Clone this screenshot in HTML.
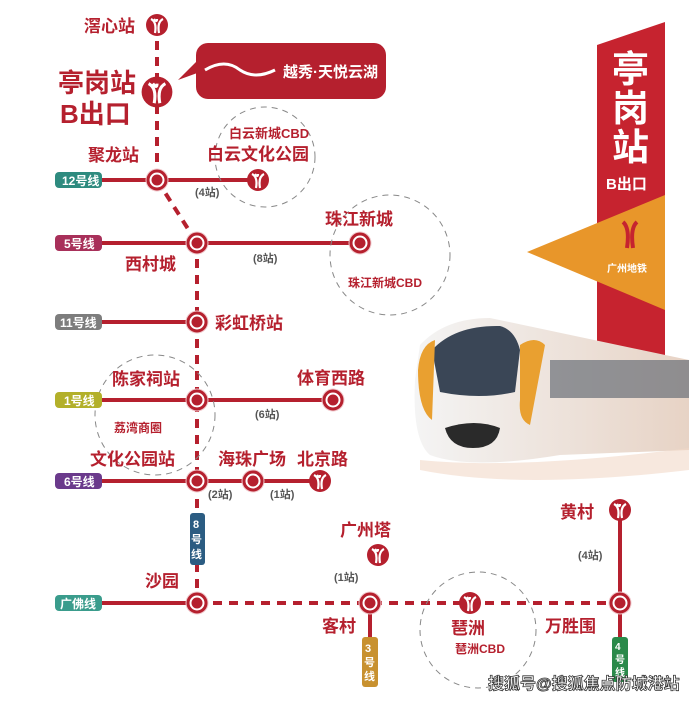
<!DOCTYPE html>
<html><head><meta charset="utf-8"><style>
html,body{margin:0;padding:0;background:#fff}
svg{display:block}
text{font-family:"Liberation Sans","Noto Sans CJK SC",sans-serif;font-weight:bold}
</style></head><body>
<svg width="689" height="701" viewBox="0 0 689 701" xmlns="http://www.w3.org/2000/svg">
<defs>
<g id="ic"><circle r="11" fill="#b5202e"/><path d="M-6,-6 Q0,-3 -2,8 M6,-6 Q0,-3 2,8 M-3,-6 Q0,-2 0,-6" stroke="#fff" stroke-width="2.2" fill="none"/></g>
<g id="st"><circle r="10" fill="#fff" stroke="#f0c8cc" stroke-width="3"/><circle r="9" fill="none" stroke="#b5202e" stroke-width="3"/><circle r="5.5" fill="#b5202e"/></g>
<linearGradient id="tr" x1="0" x2="1"><stop offset="0" stop-color="#f4f4f4"/><stop offset="1" stop-color="#e7d3c5"/></linearGradient>
</defs>
<g stroke="#b5202e" stroke-width="4" fill="none">
<line x1="157" y1="25" x2="157" y2="180" stroke-dasharray="9,7"/>
<line x1="157" y1="180" x2="197" y2="243" stroke-dasharray="9,7"/>
<line x1="197" y1="243" x2="197" y2="603" stroke-dasharray="9,7"/>
<line x1="100" y1="180" x2="258" y2="180"/>
<line x1="100" y1="243" x2="360" y2="243"/>
<line x1="100" y1="322" x2="197" y2="322"/>
<line x1="100" y1="400" x2="333" y2="400"/>
<line x1="100" y1="481" x2="320" y2="481"/>
<line x1="100" y1="603" x2="197" y2="603"/>
<line x1="197" y1="603" x2="620" y2="603" stroke-dasharray="9,7"/>
<line x1="620" y1="510" x2="620" y2="640"/>
<line x1="370" y1="603" x2="370" y2="640"/>
</g>
<g fill="none" stroke="#888" stroke-width="1" stroke-dasharray="6,5">
<circle cx="265" cy="157" r="50"/><circle cx="390" cy="255" r="60"/><circle cx="155" cy="415" r="60"/><circle cx="478" cy="630" r="58"/>
</g>
<!-- bubble -->
<rect x="196" y="43" width="190" height="56" rx="12" fill="#b5202e"/>
<path d="M198,60 L178,80 L200,72 Z" fill="#b5202e"/>
<path d="M205,70 Q225,58 240,70 Q255,80 275,70" stroke="#fff" stroke-width="3" fill="none"/>
<text x="283" y="77" font-size="15" fill="#fff" font-weight="normal">越秀·天悦云湖</text>
<!-- badges -->
<g font-size="12" fill="#fff">
<rect x="55" y="172" width="47" height="16" rx="4" fill="#2e8b7f"/><text x="62" y="185">12号线</text>
<rect x="55" y="235" width="47" height="16" rx="4" fill="#a8305a"/><text x="64" y="248">5号线</text>
<rect x="55" y="314" width="47" height="16" rx="4" fill="#7d7d7d"/><text x="60" y="327">11号线</text>
<rect x="55" y="392" width="47" height="16" rx="4" fill="#b3b02a"/><text x="64" y="405">1号线</text>
<rect x="55" y="473" width="47" height="16" rx="4" fill="#6b3a8c"/><text x="64" y="486">6号线</text>
<rect x="55" y="595" width="47" height="16" rx="4" fill="#3a9c8c"/><text x="60" y="608">广佛线</text>
<rect x="190" y="513" width="15" height="52" rx="3" fill="#2b5c82"/><text x="193" y="528" font-size="11">8</text><text x="191" y="543" font-size="11">号</text><text x="191" y="558" font-size="11">线</text>
<rect x="362" y="637" width="16" height="50" rx="3" fill="#c8912f"/><text x="365" y="652" font-size="11">3</text><text x="364" y="666" font-size="11">号</text><text x="364" y="680" font-size="11">线</text>
<rect x="612" y="637" width="16" height="45" rx="3" fill="#2a8a4a"/><text x="615" y="650" font-size="10">4</text><text x="615" y="663" font-size="10">号</text><text x="615" y="676" font-size="10">线</text>
</g>
<!-- stations -->
<use href="#ic" x="157" y="25"/>
<g transform="translate(157,92) scale(1.4)"><use href="#ic"/></g>
<use href="#st" x="157" y="180"/><use href="#ic" x="258" y="180"/>
<use href="#st" x="197" y="243"/><use href="#st" x="360" y="243"/>
<use href="#st" x="197" y="322"/>
<use href="#st" x="197" y="400"/><use href="#st" x="333" y="400"/>
<use href="#st" x="197" y="481"/><use href="#st" x="253" y="481"/><use href="#ic" x="320" y="481"/>
<use href="#st" x="197" y="603"/><use href="#st" x="370" y="603"/><use href="#ic" x="378" y="555"/>
<use href="#ic" x="470" y="603"/><use href="#st" x="620" y="603"/><use href="#ic" x="620" y="510"/>
<!-- labels -->
<g fill="#b5202e">
<text x="84" y="32" font-size="17">滘心站</text>
<text x="58" y="92" font-size="26">亭岗站</text>
<text x="60" y="123" font-size="26">B出口</text>
<text x="229" y="138" font-size="13">白云新城CBD</text>
<text x="207" y="160" font-size="17">白云文化公园</text>
<text x="88" y="161" font-size="17">聚龙站</text>
<text x="195" y="196" font-size="11" fill="#555">(4站)</text>
<text x="325" y="225" font-size="17">珠江新城</text>
<text x="125" y="270" font-size="17">西村城</text>
<text x="253" y="262" font-size="11" fill="#555">(8站)</text>
<text x="348" y="287" font-size="12">珠江新城CBD</text>
<text x="215" y="329" font-size="17">彩虹桥站</text>
<text x="112" y="385" font-size="17">陈家祠站</text>
<text x="297" y="384" font-size="17">体育西路</text>
<text x="255" y="418" font-size="11" fill="#555">(6站)</text>
<text x="114" y="432" font-size="12">荔湾商圈</text>
<text x="90" y="465" font-size="17">文化公园站</text>
<text x="218" y="465" font-size="17">海珠广场</text>
<text x="297" y="465" font-size="17">北京路</text>
<text x="208" y="498" font-size="11" fill="#555">(2站)</text>
<text x="270" y="498" font-size="11" fill="#555">(1站)</text>
<text x="340" y="536" font-size="17">广州塔</text>
<text x="334" y="581" font-size="11" fill="#555">(1站)</text>
<text x="145" y="587" font-size="17">沙园</text>
<text x="322" y="632" font-size="17">客村</text>
<text x="451" y="634" font-size="17">琶洲</text>
<text x="455" y="653" font-size="12">琶洲CBD</text>
<text x="545" y="632" font-size="17">万胜围</text>
<text x="560" y="518" font-size="17">黄村</text>
<text x="578" y="559" font-size="11" fill="#555">(4站)</text>
</g>
<!-- banner -->
<path d="M597,45 L665,22 L665,385 L597,385 Z" fill="#c6232f"/>
<g fill="#fff"><text x="612" y="82" font-size="37">亭</text><text x="612" y="121" font-size="37">岗</text><text x="612" y="160" font-size="37">站</text><text x="606" y="189" font-size="15">B出口</text></g>
<path d="M527,252 L665,195 L665,310 Z" fill="#e8962a"/>
<path d="M623,222 Q630,228 627,248 M637,222 Q630,228 633,248" stroke="#c6232f" stroke-width="4" fill="none"/>
<text x="607" y="272" font-size="10" fill="#fff">广州地铁</text>
<!-- train -->
<path d="M420,345 Q445,318 490,318 L689,360 L689,450 L560,455 Q470,470 430,455 Q412,440 415,380 Z" fill="url(#tr)"/>
<path d="M432,350 Q455,325 500,326 Q515,330 520,350 L515,392 Q480,400 440,392 Z" fill="#3a4656"/>
<path d="M418,370 Q420,345 435,340 L432,420 Q418,410 418,370 Z" fill="#e9a030"/>
<path d="M520,345 Q535,335 545,345 L530,425 Q518,420 520,400 Z" fill="#e9a030"/>
<path d="M445,428 Q475,418 500,428 Q497,448 473,448 Q450,448 445,428 Z" fill="#2a2a2a"/>
<rect x="550" y="360" width="139" height="38" fill="#6a6f78" opacity=".7"/>
<path d="M420,460 Q520,470 689,448 L689,470 Q520,490 420,470 Z" fill="#f2d8c8" opacity=".6"/>
<!-- watermark -->
<text x="488" y="689" font-size="16" fill="#fff" stroke="#333" stroke-width="0.8">搜狐号@搜狐焦点防城港站</text>
</svg>
</body></html>
